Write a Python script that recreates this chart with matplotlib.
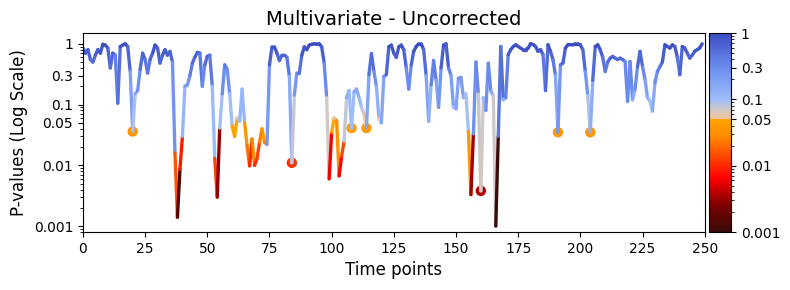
import numpy as np
import matplotlib
matplotlib.use('Agg')
import matplotlib.pyplot as plt
from matplotlib.collections import LineCollection
from matplotlib.colors import LinearSegmentedColormap, LogNorm
from matplotlib.ticker import NullFormatter

# p-values per time point
p_values = [
    0.85, 0.7, 0.8, 0.55, 0.5, 0.65, 0.8, 0.7, 0.98, 0.95,
    0.85, 0.4, 0.7, 0.65, 0.105, 0.9, 0.95, 1.0, 0.9, 0.35,
    0.036, 0.15, 0.17, 0.38, 0.7, 0.55, 0.33, 0.55, 0.7, 0.95,
    0.85, 0.48, 0.65, 0.8, 0.65, 0.75, 0.5, 0.016, 0.0014, 0.0086,
    0.03, 0.2, 0.21, 0.3, 0.48, 0.6, 0.72, 0.7, 0.2, 0.45,
    0.62, 0.65, 0.2, 0.013, 0.003, 0.041, 0.15, 0.45, 0.38, 0.15,
    0.044, 0.03, 0.06, 0.053, 0.18, 0.05, 0.021, 0.0098, 0.027, 0.01,
    0.013, 0.024, 0.04, 0.024, 0.022, 0.45, 0.89, 0.89, 0.7, 0.53,
    0.65, 0.65, 0.6, 0.29, 0.011, 0.144, 0.33, 0.33, 0.65, 0.89,
    0.8, 0.95, 0.98, 1.0, 0.98, 1.0, 0.89, 0.48, 0.13, 0.006,
    0.035, 0.06, 0.055, 0.0067, 0.014, 0.025, 0.13, 0.17, 0.041, 0.16,
    0.18, 0.13, 0.09, 0.07, 0.041, 0.31, 0.69, 0.35, 0.2, 0.06,
    0.05, 0.29, 0.31, 0.89, 0.95, 0.7, 0.6, 0.89, 0.95, 0.8,
    0.4, 0.18, 0.45, 0.75, 0.9, 1.0, 1.0, 0.8, 0.3, 0.053,
    0.21, 0.53, 0.25, 0.09, 0.4, 0.95, 1.0, 0.4, 0.3, 0.09,
    0.085, 0.27, 0.28, 0.13, 0.15, 0.036, 0.0033, 0.033, 0.5, 0.15,
    0.0038, 0.13, 0.08, 0.48, 0.166, 0.14, 0.001, 0.03, 0.9, 0.12,
    0.13, 0.66, 0.8, 0.9, 0.96, 0.9, 0.85, 0.8, 0.8, 0.85,
    1.0, 0.97, 0.9, 0.75, 0.8, 0.66, 0.17, 0.96, 0.75, 0.55,
    0.3, 0.035, 0.45, 0.48, 0.85, 0.96, 0.97, 0.96, 1.0, 1.0,
    0.96, 0.8, 0.35, 0.14, 0.035, 0.25, 0.9, 0.96, 0.8, 0.6,
    0.35, 0.5, 0.58, 0.62, 0.58, 0.55, 0.58, 0.55, 0.51, 0.113,
    0.51, 0.12, 0.18, 0.42, 0.75, 0.42, 0.26, 0.13, 0.113, 0.078,
    0.23, 0.35, 0.42, 0.5, 0.96, 0.9, 0.85, 0.96, 0.9, 0.6,
    0.31, 0.9, 0.85, 0.7, 0.58, 0.65, 0.75, 0.8, 0.85, 1.0,
]
alpha_level = 0.05
tick_values = [1, 0.3, 0.1, 0.05, 0.01, 0.001]
tick_labels = ['1', '0.3', '0.1', '0.05', '0.01', '0.001']

p = np.array(p_values)
t = np.arange(len(p))

# colour scale: heat below 0.05, beige -> blue above
norm = LogNorm(vmin=0.001, vmax=1)
anchors = [(0.001, '#3a0c0a'), (0.0025, '#7a0000'), (0.0065, '#ff0000'),
           (0.016, '#ff5500'), (0.028, '#ff8c00'), (0.0499, '#ffa500'),
           (0.0501, '#f3c596'), (0.072, '#cdc9cc'), (0.1, '#9dbdfc'),
           (0.3, '#6c8df0'), (1.0, '#3b4cc0')]
cmap = LinearSegmentedColormap.from_list(
    'pcmap', [(float(norm(v)), c) for v, c in anchors], N=512)

# one segment per step
pts = np.column_stack([t, p])
segs = np.stack([pts[:-1], pts[1:]], axis=1)
both_sig = (p[:-1] < alpha_level) & (p[1:] < alpha_level)
seg_vals = np.where(both_sig, p[:-1], (p[:-1] + p[1:]) / 2)

fig = plt.figure(figsize=(7.9, 2.9), dpi=100)
ax = fig.add_axes([0.105, 0.2, 0.787, 0.686])
cax = fig.add_axes([0.8975, 0.2, 0.028, 0.686])

lc = LineCollection(segs, cmap=cmap, norm=norm, linewidth=2.4,
                    capstyle='round', zorder=2)
lc.set_array(seg_vals)
ax.add_collection(lc)

# isolated significant points get a dot (under the line)
prev_p = np.r_[1.0, p[:-1]]
next_p = np.r_[p[1:], 1.0]
lone = (p < alpha_level) & (prev_p >= alpha_level) & (next_p >= alpha_level)
ax.scatter(t[lone], p[lone], c=p[lone], cmap=cmap, norm=norm, s=42, zorder=1)

ax.set_yscale('log')
ax.set_xlim(0, 250)
ax.set_ylim(0.0008, 1.5)
ax.set_xticks(np.arange(0, 251, 25))
ax.set_yticks(tick_values)
ax.set_yticklabels(tick_labels)
ax.yaxis.set_minor_formatter(NullFormatter())
ax.set_title('Multivariate - Uncorrected', fontsize=14)
ax.set_xlabel('Time points', fontsize=12)
ax.set_ylabel('P-values (Log Scale)', fontsize=12)

cb = fig.colorbar(lc, cax=cax, ticks=tick_values)
cb.ax.set_yticklabels(tick_labels)
cb.ax.yaxis.set_minor_formatter(NullFormatter())

fig.savefig('out.png', dpi=100)
